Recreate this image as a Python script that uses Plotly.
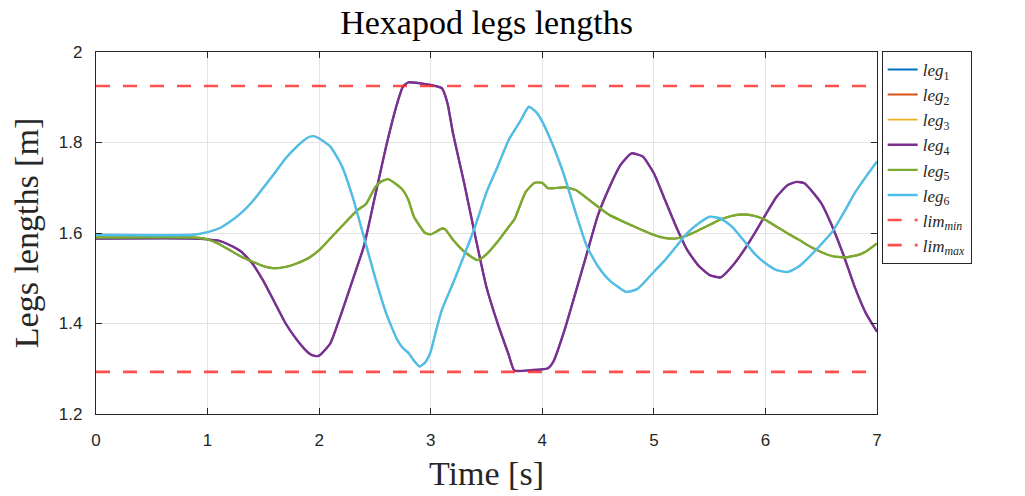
import plotly.graph_objects as go

# ---- data ----
t_leg4 = [0, 0.87, 1.0, 1.1, 1.2, 1.3, 1.4, 1.5, 1.6, 1.7, 1.8, 1.9, 1.95, 2.0, 2.1, 2.2, 2.3, 2.4, 2.5,
          2.6, 2.7, 2.75, 2.8, 2.9, 3.0, 3.1, 3.15, 3.2, 3.3, 3.4, 3.5, 3.6, 3.7, 3.75, 3.9, 4.05, 4.1,
          4.2, 4.3, 4.4, 4.5, 4.6, 4.7, 4.8, 4.9, 5.0, 5.1, 5.2, 5.3, 5.4, 5.5, 5.6, 5.7, 5.8, 5.9, 6.0,
          6.1, 6.2, 6.28, 6.35, 6.5, 6.6, 6.7, 6.8, 6.9, 7.0]
leg4 = [1.588, 1.588, 1.586, 1.583, 1.573, 1.559, 1.533, 1.494, 1.447, 1.400, 1.364, 1.336, 1.329, 1.329,
        1.356, 1.423, 1.496, 1.570, 1.680, 1.791, 1.887, 1.923, 1.933, 1.931, 1.927, 1.920, 1.887, 1.820,
        1.710, 1.592, 1.480, 1.400, 1.330, 1.296, 1.297, 1.301, 1.316, 1.386, 1.470, 1.555, 1.640, 1.700,
        1.750, 1.776, 1.769, 1.732, 1.673, 1.614, 1.562, 1.528, 1.507, 1.502, 1.526, 1.559, 1.598, 1.640,
        1.680, 1.706, 1.713, 1.710, 1.666, 1.614, 1.551, 1.481, 1.423, 1.382]

t_leg5 = [0, 0.87, 1.0, 1.1, 1.2, 1.3, 1.4, 1.5, 1.6, 1.7, 1.8, 1.9, 2.0, 2.1, 2.2, 2.3, 2.35, 2.42, 2.5,
          2.55, 2.62, 2.7, 2.75, 2.8, 2.85, 2.95, 3.0, 3.05, 3.1, 3.13, 3.2, 3.3, 3.42, 3.5, 3.6, 3.7,
          3.75, 3.85, 3.93, 4.0, 4.05, 4.1, 4.2, 4.3, 4.4, 4.5, 4.6, 4.7, 4.8, 4.9, 5.0, 5.1, 5.2, 5.3,
          5.4, 5.5, 5.6, 5.7, 5.8, 5.9, 6.0, 6.1, 6.2, 6.3, 6.4, 6.5, 6.6, 6.72, 6.85, 6.9, 7.0]
leg5 = [1.590, 1.590, 1.586, 1.576, 1.562, 1.548, 1.537, 1.527, 1.522, 1.525, 1.533, 1.544, 1.562, 1.588,
        1.614, 1.640, 1.652, 1.664, 1.700, 1.713, 1.719, 1.706, 1.695, 1.673, 1.636, 1.600, 1.597, 1.603,
        1.610, 1.608, 1.585, 1.559, 1.540, 1.553, 1.581, 1.614, 1.630, 1.690, 1.711, 1.711, 1.699, 1.699,
        1.701, 1.695, 1.677, 1.658, 1.640, 1.628, 1.617, 1.606, 1.596, 1.589, 1.588, 1.595, 1.606, 1.618,
        1.630, 1.638, 1.641, 1.638, 1.629, 1.614, 1.599, 1.585, 1.570, 1.558, 1.549, 1.546, 1.553, 1.559,
        1.577]

t_leg6 = [0, 0.87, 1.0, 1.1, 1.2, 1.3, 1.4, 1.5, 1.6, 1.7, 1.8, 1.9, 1.95, 2.0, 2.1, 2.2, 2.3, 2.4, 2.5,
          2.6, 2.7, 2.75, 2.8, 2.85, 2.9, 2.95, 3.0, 3.05, 3.1, 3.2, 3.3, 3.4, 3.5, 3.6, 3.7, 3.8, 3.88,
          3.95, 4.0, 4.1, 4.2, 4.3, 4.4, 4.5, 4.6, 4.75, 4.85, 5.0, 5.1, 5.2, 5.3, 5.4, 5.5, 5.6, 5.7,
          5.8, 5.9, 6.0, 6.1, 6.2, 6.3, 6.4, 6.5, 6.6, 6.7, 6.8, 6.9, 7.0]
leg6 = [1.596, 1.596, 1.602, 1.610, 1.625, 1.644, 1.669, 1.700, 1.732, 1.765, 1.791, 1.811, 1.814, 1.809,
        1.791, 1.750, 1.680, 1.592, 1.503, 1.423, 1.364, 1.346, 1.335, 1.318, 1.305, 1.314, 1.338, 1.386,
        1.430, 1.489, 1.551, 1.616, 1.690, 1.747, 1.806, 1.846, 1.879, 1.866, 1.846, 1.791, 1.724, 1.644,
        1.570, 1.526, 1.496, 1.470, 1.476, 1.514, 1.540, 1.570, 1.600, 1.621, 1.636, 1.632, 1.614, 1.585,
        1.555, 1.533, 1.518, 1.514, 1.526, 1.549, 1.575, 1.603, 1.644, 1.688, 1.724, 1.758]

# legs 1-3 coincide with legs 4-6 (hidden beneath them in the reference)
t_leg1, leg1 = t_leg4, leg4
t_leg2, leg2 = t_leg5, leg5
t_leg3, leg3 = t_leg6, leg6

t_range = [0, 7]
lim_min = 1.293
lim_max = 1.925

series_names = ["<i>leg</i><sub>1</sub>", "<i>leg</i><sub>2</sub>", "<i>leg</i><sub>3</sub>",
                "<i>leg</i><sub>4</sub>", "<i>leg</i><sub>5</sub>", "<i>leg</i><sub>6</sub>"]
lim_names = ["<i>lim</i><sub><i>min</i></sub>", "<i>lim</i><sub><i>max</i></sub>"]

colors = ["#0072BD", "#D95319", "#EDB120", "#7E2F8E", "#77AC30", "#4DBEEE"]
widths = [1.9, 1.9, 1.9, 2.4, 2.4, 2.4]

fig = go.Figure()
for (tx, ys), name, c, w in zip([(t_leg1, leg1), (t_leg2, leg2), (t_leg3, leg3),
                                 (t_leg4, leg4), (t_leg5, leg5), (t_leg6, leg6)],
                                series_names, colors, widths):
    fig.add_trace(go.Scatter(x=tx, y=ys, mode="lines", name=name,
                             line=dict(color=c, width=w, shape="spline", smoothing=0.5)))

for name, v in zip(lim_names, [lim_min, lim_max]):
    fig.add_trace(go.Scatter(x=t_range, y=[v, v], mode="lines", name=name,
                             line=dict(color="rgba(255,40,40,0.82)", width=2.6, dash="14px,13px")))

serif = "Liberation Serif, Times New Roman, serif"
sans = "Liberation Sans, Arial, sans-serif"

# page body has an 8px margin, so the figure is sized/offset accordingly
W, H = 1017, 488
fig.update_layout(
    width=W, height=H,
    margin=dict(l=88, r=148, t=44, b=82, autoexpand=False),
    paper_bgcolor="white", plot_bgcolor="white",
    title=dict(text="Hexapod legs lengths", x=(88 + (W - 148)) / 2 / W, xanchor="center",
               y=1 - 14 / H, yanchor="middle", yref="container",
               font=dict(family=serif, size=34, color="#000000")),
    showlegend=True,
    legend=dict(x=1.006, xanchor="left", y=1.003, yanchor="top",
                bordercolor="#262626", borderwidth=1, bgcolor="white",
                font=dict(family=serif, size=17, color="#262626"),
                tracegroupgap=0),
    xaxis=dict(range=[0, 7], dtick=1, showgrid=True, gridcolor="#e3e3e3", gridwidth=1,
               showline=True, linecolor="#262626", linewidth=1.2, mirror="ticks",
               ticks="inside", ticklen=6, tickcolor="#262626", zeroline=False, automargin=False,
               ticklabelstandoff=10,
               tickfont=dict(family=sans, size=17, color="#262626"),
               title=dict(text="Time [s]", font=dict(family=serif, size=34, color="#262626"),
                          standoff=12)),
    yaxis=dict(range=[1.2, 2.0], dtick=0.2, showgrid=True, gridcolor="#e3e3e3", gridwidth=1,
               showline=True, linecolor="#262626", linewidth=1.2, mirror="ticks",
               ticks="inside", ticklen=6, tickcolor="#262626", zeroline=False, automargin=False,
               ticklabelstandoff=9,
               tickfont=dict(family=sans, size=17, color="#262626"),
               title=dict(text="Legs lengths [m]", font=dict(family=serif, size=34, color="#262626"),
                          standoff=12)),
)

fig.write_html("out.html")
